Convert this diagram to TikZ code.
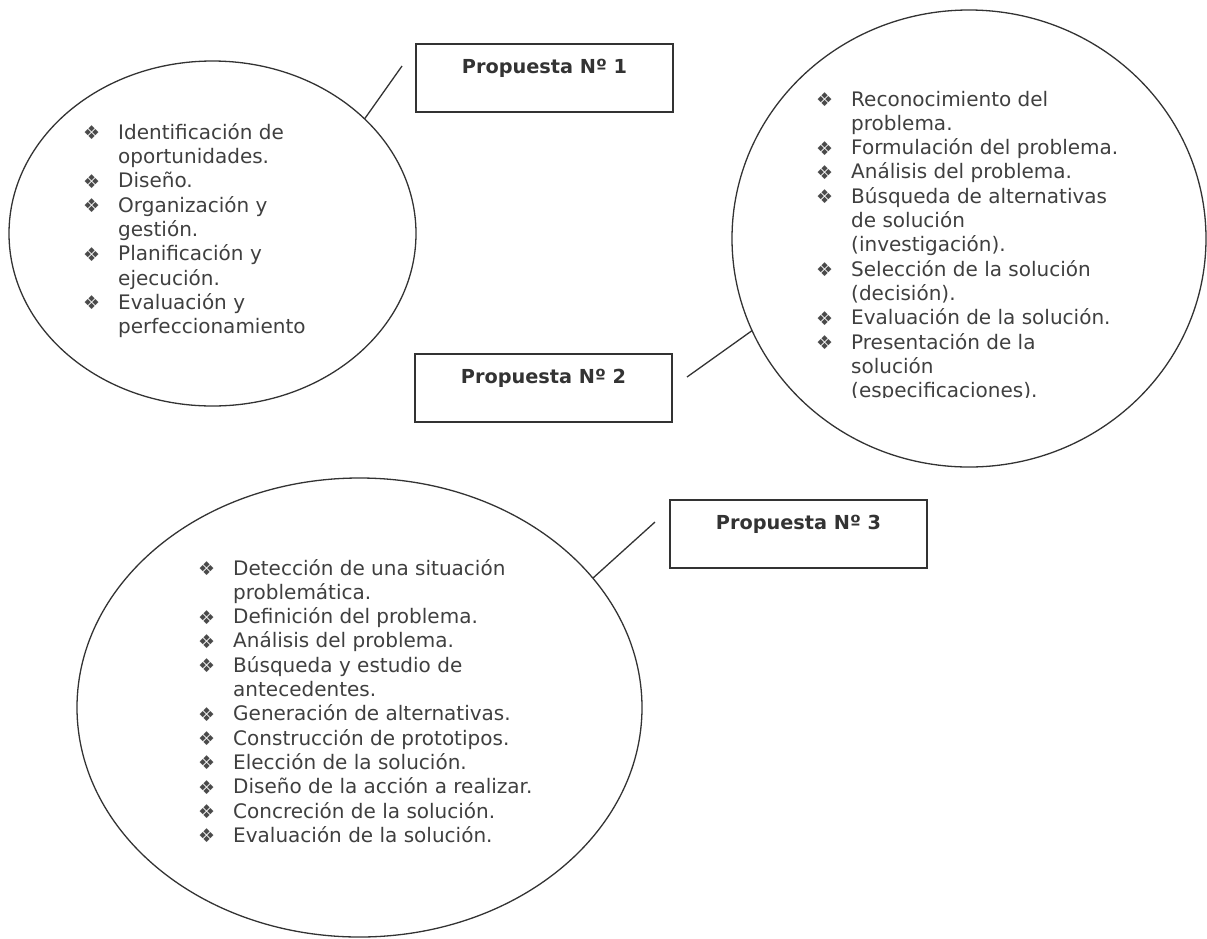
\documentclass[tikz,border=0pt]{standalone}
\usepackage{fontspec}
\setmainfont{DejaVu Sans}
\usetikzlibrary{shapes.geometric,calc}

\definecolor{ink}{HTML}{3F3F3F}
\definecolor{rule}{HTML}{333333}
\definecolor{bulgray}{HTML}{4A4A4A}

% list helpers: bullet item and continuation line with hanging indent
\newcommand\bul{\makebox[35pt][l]{\textcolor{bulgray}{\fontsize{19}{19}\selectfont\raisebox{-0.5pt}{❖}}}}
\newcommand\itm[1]{\par\noindent\bul #1}
\newcommand\cnt[1]{\par\noindent\hspace*{35pt}#1}
\newcommand\listfont{\fontsize{20}{24.3}\selectfont}

\tikzset{
  bubble/.style={ellipse, draw=rule, line width=1.3pt, inner sep=0pt, outer sep=0pt},
  titlebox/.style={rectangle, draw=rule, line width=1.6pt, minimum width=257pt,
    minimum height=68pt, inner sep=0pt, outer sep=0pt, anchor=north west},
  titletext/.style={anchor=base, inner sep=0pt,
    font=\fontsize{19.3}{23}\selectfont\bfseries, text=rule},
  items/.style={anchor=base west, inner sep=0pt, text=ink},
  link/.style={draw=rule, line width=1.3pt},
}

\begin{document}
\begin{tikzpicture}[x=1pt,y=-1pt]
\useasboundingbox (0,0) rectangle (1207,938);

% the three bubbles
\node[bubble, minimum width=407pt, minimum height=345pt] (e1) at (212.5,233.5) {};
\node[bubble, minimum width=474pt, minimum height=457pt] (e2) at (969,238.5) {};
\node[bubble, minimum width=565pt, minimum height=459pt] (e3) at (359.5,707.5) {};

% title boxes
\node[titlebox] (p1) at (416,44) {};
\node[titlebox] (p2) at (415,354) {};
\node[titlebox] (p3) at (670,500) {};
\node[titletext] (t1) at ($(p1.north west)+(128.5,29.5)$) {Propuesta Nº 1};
\node[titletext] (t2) at ($(p2.north west)+(128.5,29.5)$) {Propuesta Nº 2};
\node[titletext] (t3) at ($(p3.north west)+(128.5,29.5)$) {Propuesta Nº 3};

% connectors
\coordinate (k1) at (402,66);
\coordinate (k2) at (687,377);
\coordinate (k3) at (655,522);
\draw[link] (e1.37) -- (k1);
\draw[link] (k2) -- (e2.203);
\draw[link] (e3.29) -- (k3);

% list 1
\node[items] (l1) at (83,139.3) {\parbox[t]{400pt}{\listfont
  \itm{Identificación de}\cnt{oportunidades.}\itm{Diseño.}%
  \itm{Organización y}\cnt{gestión.}\itm{Planificación y}\cnt{ejecución.}%
  \itm{Evaluación y}\cnt{perfeccionamiento}}};

% list 2 (its text frame cuts the last line)
\begin{scope}
\clip (700,0) rectangle (1207,397.5);
\node[items] (l2) at (816,106) {\parbox[t]{400pt}{\listfont
  \itm{Reconocimiento del}\cnt{problema.}\itm{Formulación del problema.}%
  \itm{Análisis del problema.}\itm{Búsqueda de alternativas}\cnt{de solución}%
  \cnt{(investigación).}\itm{Selección de la solución}\cnt{(decisión).}%
  \itm{Evaluación de la solución.}\itm{Presentación de la}\cnt{solución}%
  \cnt{(especificaciones).}}};
\end{scope}

% list 3
\node[items] (l3) at (198,575) {\parbox[t]{420pt}{\listfont
  \itm{Detección de una situación}\cnt{problemática.}%
  \itm{Definición del problema.}\itm{Análisis del problema.}%
  \itm{Búsqueda y estudio de}\cnt{antecedentes.}%
  \itm{Generación de alternativas.}\itm{Construcción de prototipos.}%
  \itm{Elección de la solución.}\itm{Diseño de la acción a realizar.}%
  \itm{Concreción de la solución.}\itm{Evaluación de la solución.}}};
\end{tikzpicture}
\end{document}
